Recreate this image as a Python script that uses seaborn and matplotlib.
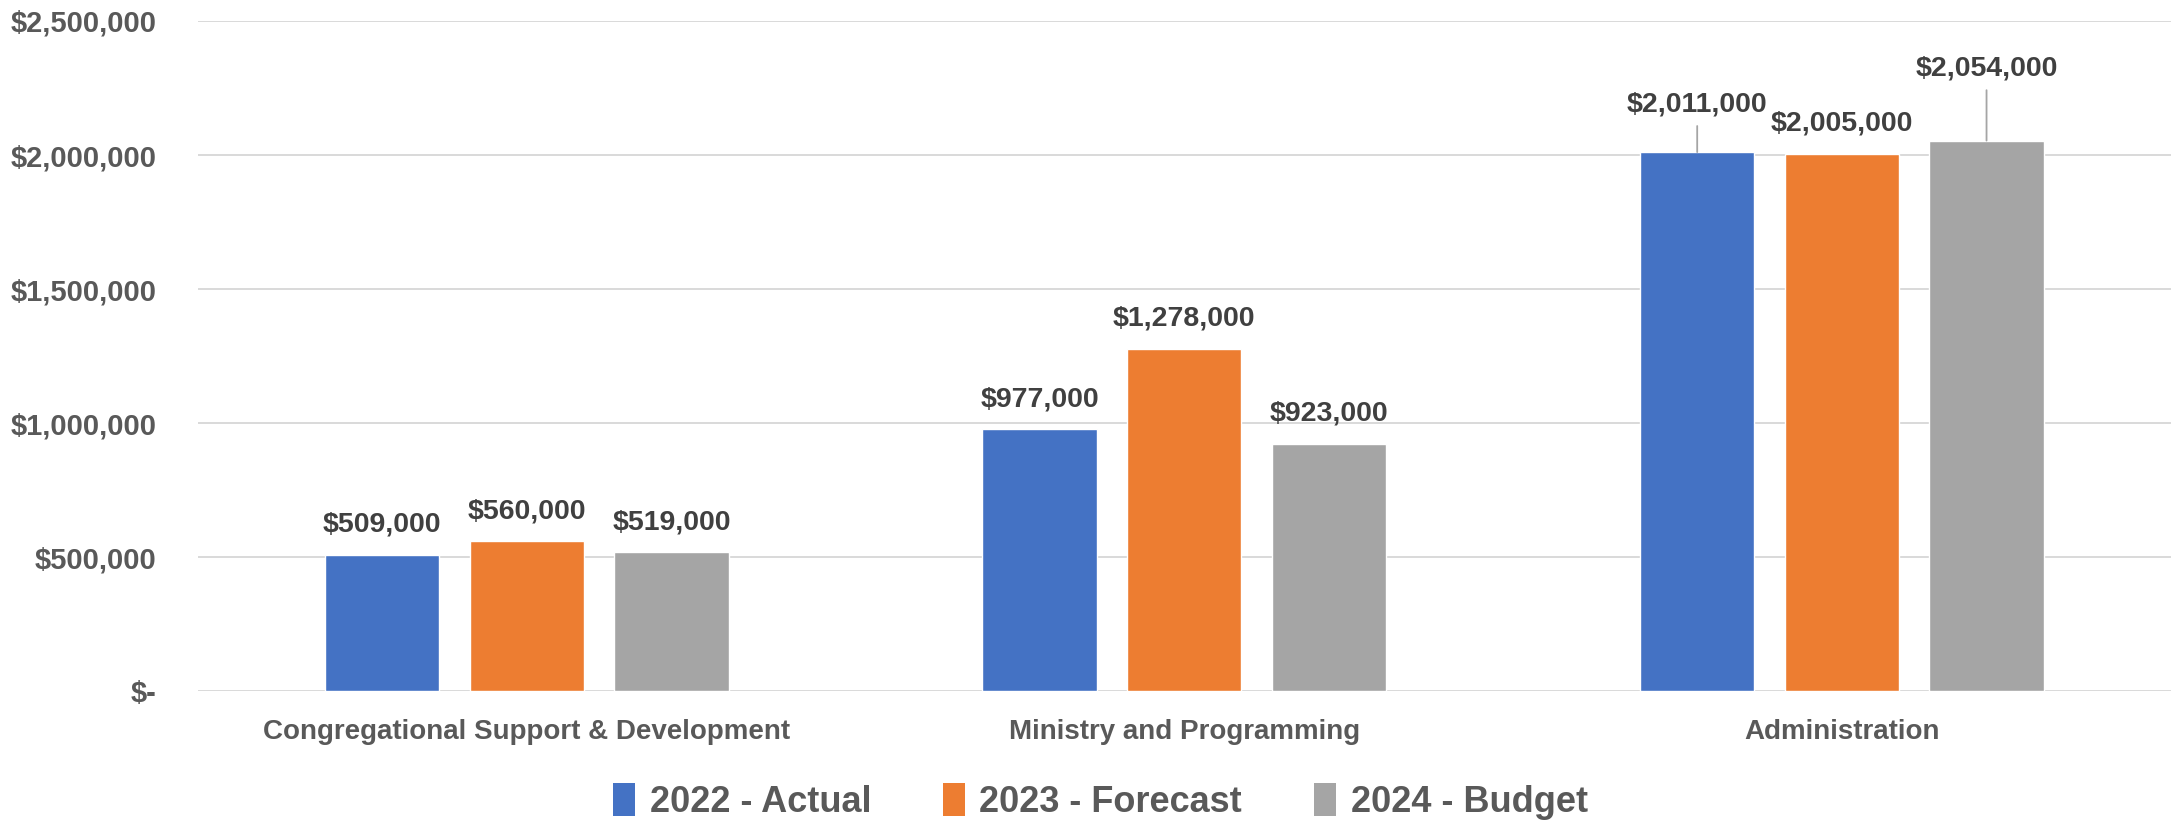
import matplotlib
matplotlib.use("Agg")
import matplotlib.pyplot as plt
import matplotlib.ticker as mticker
from matplotlib.patches import Patch
import pandas as pd
import seaborn as sns

categories = ["Congregational Support & Development", "Ministry and Programming", "Administration"]
series = ["2022 - Actual", "2023 - Forecast", "2024 - Budget"]
actual_2022 = [509000, 977000, 2011000]
forecast_2023 = [560000, 1278000, 2005000]
budget_2024 = [519000, 923000, 2054000]
colors = ["#4472C4", "#ED7D31", "#A5A5A5"]

rows = []
for s, vals in zip(series, [actual_2022, forecast_2023, budget_2024]):
    for c, v in zip(categories, vals):
        rows.append({"Category": c, "Series": s, "Value": v})
df = pd.DataFrame(rows)

sns.set_theme(style="white")
plt.rcParams['font.family'] = ['Liberation Sans', 'DejaVu Sans']
plt.rcParams['font.weight'] = 'bold'

fig = plt.figure(figsize=(21.75, 8.23), dpi=100)
ax = fig.add_axes([0.091, 0.160, 0.907, 0.8145])

sns.barplot(data=df, x="Category", y="Value", hue="Series", order=categories,
            hue_order=series, palette=colors, width=0.66, gap=0.21,
            saturation=1, ax=ax, legend=False, errorbar=None)

ax.set_xlim(-0.5, 2.5)
ax.set_ylim(0, 2500000)
ax.yaxis.set_major_locator(mticker.MultipleLocator(500000))

def fmt(v, pos=None):
    if v == 0:
        return "$-"
    return "${:,.0f}".format(v)

ax.yaxis.set_major_formatter(mticker.FuncFormatter(fmt))
ax.grid(axis="y", color="#D9D9D9", linewidth=1.4)
ax.set_axisbelow(True)
for sp in ax.spines.values():
    sp.set_visible(False)
ax.set_xlabel("")
ax.set_ylabel("")
ax.tick_params(axis="y", length=0, pad=30, labelsize=21, labelcolor="#595959")
ax.tick_params(axis="x", length=0, pad=20, labelsize=20, labelcolor="#595959")
for t in ax.get_yticklabels() + ax.get_xticklabels():
    t.set_fontweight("bold")

# data labels
special = {(2, 0): 34.5, (2, 2): 52}
for si, cont in enumerate(ax.containers):
    for ci, bar in enumerate(cont):
        h = bar.get_height()
        x = bar.get_x() + bar.get_width() / 2
        off = special.get((ci, si), 21.6)
        kw = {}
        if (ci, si) in special:
            kw["arrowprops"] = dict(arrowstyle="-", color="#A5A5A5", lw=1.3,
                                    shrinkA=4, shrinkB=0)
        ax.annotate(fmt(h), xy=(x, h), xytext=(0, off), textcoords="offset points",
                    ha="center", va="center", fontsize=20.5, fontweight="bold",
                    color="#404040", **kw)

handles = [Patch(facecolor=c, edgecolor="none") for c in colors]
fig.legend(handles, series, loc="center", bbox_to_anchor=(0.506, 0.026), ncol=3,
           frameon=False, prop={"size": 26, "weight": "bold"},
           labelcolor="#595959", handlelength=0.6, handleheight=1.0,
           handletextpad=0.4, columnspacing=2.0)

fig.savefig("out.png", dpi=100)
